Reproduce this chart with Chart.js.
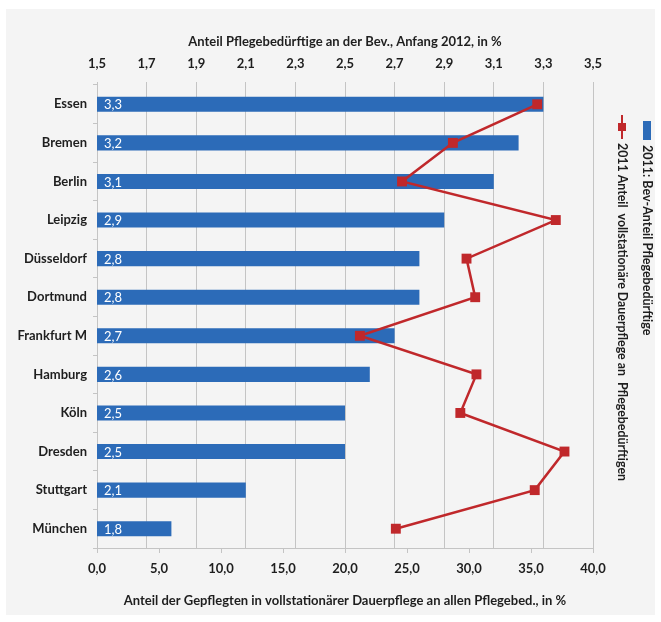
<!DOCTYPE html>
<html>
<head>
<meta charset="utf-8">
<style>
  html, body { margin: 0; padding: 0; background: #ffffff; }
  canvas { display: block; }
</style>
<script src="https://cdn.jsdelivr.net/npm/chart.js@4.4.1/dist/chart.umd.min.js"></script>
</head>
<body>
<canvas id="chart" width="661" height="622"></canvas>
<script>
// Städte (Kategorien), von oben nach unten
const cities = ['Essen', 'Bremen', 'Berlin', 'Leipzig', 'Düsseldorf', 'Dortmund',
  'Frankfurt M', 'Hamburg', 'Köln', 'Dresden', 'Stuttgart', 'München'];

// Anteil Pflegebedürftige an der Bevölkerung, Anfang 2012, in %
const bevAnteil = [3.3, 3.2, 3.1, 2.9, 2.8, 2.8, 2.7, 2.6, 2.5, 2.5, 2.1, 1.8];

// Anteil vollstationäre Dauerpflege an allen Pflegebedürftigen, in %
const stationaerAnteil = [35.5, 28.7, 24.6, 37.0, 29.8, 30.5, 21.2, 30.6, 29.3, 37.7, 35.3, 24.1];

// Achsenbeschriftungen
const topTicks = [1.5, 1.7, 1.9, 2.1, 2.3, 2.5, 2.7, 2.9, 3.1, 3.3, 3.5];
const bottomTicks = [0, 5, 10, 15, 20, 25, 30, 35, 40];

const legendBar = '2011: Bev-Anteil Pflegebedürftige';
const legendLine = '2011 Anteil  vollstationäre Dauerpflege an  Pflegebedürftigen';
const titleTop = 'Anteil Pflegebedürftige an der Bev., Anfang 2012, in %';
const titleBottom = 'Anteil der Gepflegten in vollstationärer Dauerpflege an allen Pflegebed., in %';

const BLUE = '#2c6bb8';
const RED = '#c0282b';
const GRID = '#c4c4c4';
const TEXT = '#1e1e1e';
const FONT = 'Lato, "DejaVu Sans", sans-serif';

const comma = v => Number(v).toFixed(1).replace('.', ',');
const setTicks = arr => scale => { scale.ticks = arr.map(v => ({ value: v })); };

// Hintergrund mit hellgrauer Fläche
const background = {
  id: 'background',
  beforeDraw(chart) {
    const { ctx, width, height } = chart;
    ctx.save();
    ctx.fillStyle = '#ffffff';
    ctx.fillRect(0, 0, width, height);
    ctx.fillStyle = '#f4f4f4';
    ctx.fillRect(6, 9, width - 12, height - 16);
    ctx.restore();
  }
};

// Werte als weiße Schrift links in den Balken
const barValues = {
  id: 'barValues',
  afterDatasetsDraw(chart) {
    const meta = chart.getDatasetMeta(1);
    const { ctx, chartArea } = chart;
    ctx.save();
    ctx.fillStyle = '#ffffff';
    ctx.font = '13px ' + FONT;
    ctx.textAlign = 'left';
    ctx.textBaseline = 'middle';
    meta.data.forEach((el, i) => {
      ctx.fillText(comma(chart.data.datasets[1].data[i]), chartArea.left + 7, el.y + 1);
    });
    ctx.restore();
  }
};

// Senkrechte Legende rechts neben dem Diagramm
const sideLegend = {
  id: 'sideLegend',
  afterDraw(chart) {
    const { ctx } = chart;
    ctx.save();
    ctx.font = 'bold 12.5px ' + FONT;
    ctx.fillStyle = TEXT;
    ctx.textBaseline = 'middle';
    ctx.textAlign = 'left';

    // Balken-Eintrag
    ctx.fillStyle = BLUE;
    ctx.fillRect(643, 121, 8, 19);
    ctx.save();
    ctx.translate(647, 145);
    ctx.rotate(Math.PI / 2);
    ctx.fillStyle = TEXT;
    ctx.fillText(legendBar, 0, 0, 194);
    ctx.restore();

    // Linien-Eintrag
    ctx.strokeStyle = RED;
    ctx.lineWidth = 2;
    ctx.beginPath();
    ctx.moveTo(622, 115);
    ctx.lineTo(622, 139);
    ctx.stroke();
    ctx.fillStyle = RED;
    ctx.fillRect(618, 123, 8, 8);
    ctx.save();
    ctx.translate(622, 143);
    ctx.rotate(Math.PI / 2);
    ctx.fillStyle = TEXT;
    ctx.fillText(legendLine, 0, 0, 338);
    ctx.restore();
    ctx.restore();
  }
};

new Chart(document.getElementById('chart'), {
  type: 'bar',
  data: {
    labels: cities,
    datasets: [
      {
        type: 'line',
        label: legendLine,
        data: stationaerAnteil,
        xAxisID: 'x',
        yAxisID: 'y',
        borderColor: RED,
        backgroundColor: RED,
        borderWidth: 2.5,
        pointStyle: 'rect',
        pointRadius: 7,
        pointHoverRadius: 7,
        pointBorderWidth: 0,
        tension: 0,
        order: 0
      },
      {
        type: 'bar',
        label: legendBar,
        data: bevAnteil,
        xAxisID: 'x2',
        yAxisID: 'y',
        backgroundColor: BLUE,
        categoryPercentage: 1,
        barPercentage: 0.39,
        order: 1
      }
    ]
  },
  options: {
    indexAxis: 'y',
    responsive: false,
    animation: false,
    devicePixelRatio: 1,
    layout: { padding: { left: 0, right: 68, top: 0, bottom: 0 } },
    plugins: {
      legend: { display: false },
      tooltip: { enabled: false }
    },
    scales: {
      y: {
        type: 'category',
        position: 'left',
        afterFit: s => { s.width = 97; },
        grid: { drawOnChartArea: false, drawTicks: true, tickLength: 4, color: GRID, offset: true },
        border: { display: true, color: GRID },
        ticks: { color: TEXT, padding: 6, font: { family: FONT, size: 13, weight: 'bold' } }
      },
      x2: {
        type: 'linear',
        position: 'top',
        min: 1.5,
        max: 3.5,
        afterBuildTicks: setTicks(topTicks),
        afterFit: s => { s.height = 85; },
        grid: { color: GRID, drawTicks: true, tickLength: 3 },
        border: { display: false },
        ticks: {
          color: TEXT, padding: 10, maxRotation: 0, autoSkip: false,
          font: { family: FONT, size: 13, weight: 'bold' },
          callback: v => comma(v)
        },
        title: {
          display: true, text: titleTop, color: TEXT,
          font: { family: FONT, size: 13, weight: 'bold' },
          padding: { top: 34, bottom: 0 }
        }
      },
      x: {
        type: 'linear',
        position: 'bottom',
        min: 0,
        max: 40,
        afterBuildTicks: setTicks(bottomTicks),
        afterFit: s => { s.height = 74; },
        grid: { drawOnChartArea: false, drawTicks: true, tickLength: 5, color: GRID },
        border: { display: true, color: GRID },
        ticks: {
          color: TEXT, padding: 8, maxRotation: 0, autoSkip: false,
          font: { family: FONT, size: 13, weight: 'bold' },
          callback: v => comma(v)
        },
        title: {
          display: true, text: titleBottom, color: TEXT,
          font: { family: FONT, size: 13, weight: 'bold' },
          padding: { top: 0, bottom: 13 }
        }
      }
    }
  },
  plugins: [background, barValues, sideLegend]
});
</script>
</body>
</html>
